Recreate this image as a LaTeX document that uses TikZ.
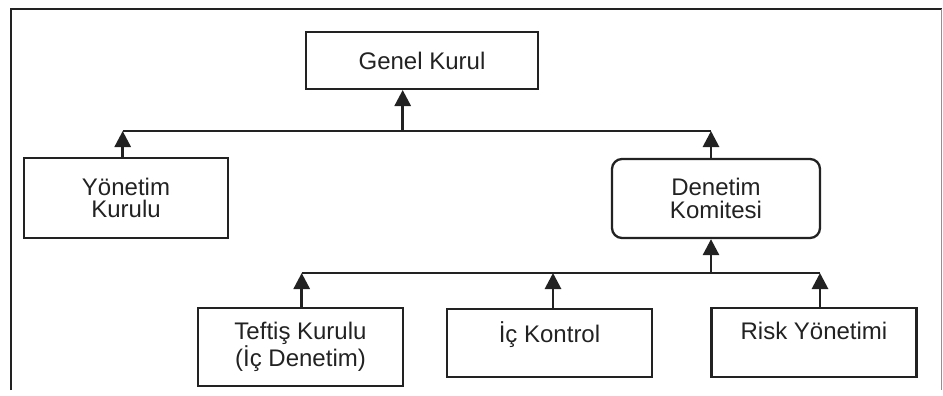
\documentclass[tikz,border=0pt]{standalone}
\usepackage{fontspec}
\setmainfont{Liberation Sans}
\usetikzlibrary{arrows.meta}
\definecolor{ink}{HTML}{222222}
\tikzset{
  box/.style={draw=ink, line width=2pt, rectangle, align=center, text=ink,
    inner sep=0pt, font=\fontsize{24}{22.5}\selectfont},
  lowbox/.style={box, line width=2.6pt},
  bar/.style={draw=ink, line width=1.3pt},
  up/.style={draw=ink, line width=2.8pt, -{Triangle[width=16pt,length=16pt]}},
}
\begin{document}
\begin{tikzpicture}[x=1pt, y=-1pt]
  \useasboundingbox (0,0) rectangle (943,396);
  % outer frame, open at the bottom
  \draw[ink, line width=2pt] (10.5,390) -- (10.5,9.5) -- (941.5,9.5);
  \draw[ink!50, line width=1.2pt] (941.8,9.5) -- (941.8,390);

  % boxes
  \node[box, minimum width=232pt, minimum height=57pt] (genel) at (422,60.5) {Genel Kurul};
  \node[box, line width=2.3pt, minimum width=204pt, minimum height=80pt] (yon) at (126,198) {Yönetim\\Kurulu};
  \node[box, line width=2.3pt, rounded corners=10pt, minimum width=208pt, minimum height=79pt] (den) at (716,198.5) {Denetim\\Komitesi};
  \node[lowbox, minimum width=205pt, minimum height=78pt] (tef) at (300.5,347) {Teftiş Kurulu\\(İç Denetim)};
  \node[lowbox, minimum width=205pt, minimum height=68pt] (ic) at (549.5,343) {İç Kontrol\\~};
  \node[lowbox, minimum width=205pt, minimum height=69pt] (risk) at (814,342.5) {Risk Yönetimi\\~};

  % junction points on the two bus lines
  \coordinate (ja) at (122.7,131);
  \coordinate (jb) at (402.7,131);
  \coordinate (jc) at (711,131);
  \coordinate (jd) at (301.7,273);
  \coordinate (je) at (553,273);
  \coordinate (jf) at (711,273);
  \coordinate (jg) at (820,273);

  % upper level
  \draw[bar] (ja) -- (jc);
  \draw[up] (jb) -- (jb |- genel.south);
  \draw[up] (yon.north -| ja) -- (ja);
  \draw[up] (den.north -| jc) -- (jc);

  % lower level
  \draw[bar] (jd) -- (jg);
  \draw[up] (jf) -- (jf |- den.south);
  \draw[up] (tef.north -| jd) -- (jd);
  \draw[up] (ic.north -| je) -- (je);
  \draw[up] (risk.north -| jg) -- (jg);
\end{tikzpicture}
\end{document}
